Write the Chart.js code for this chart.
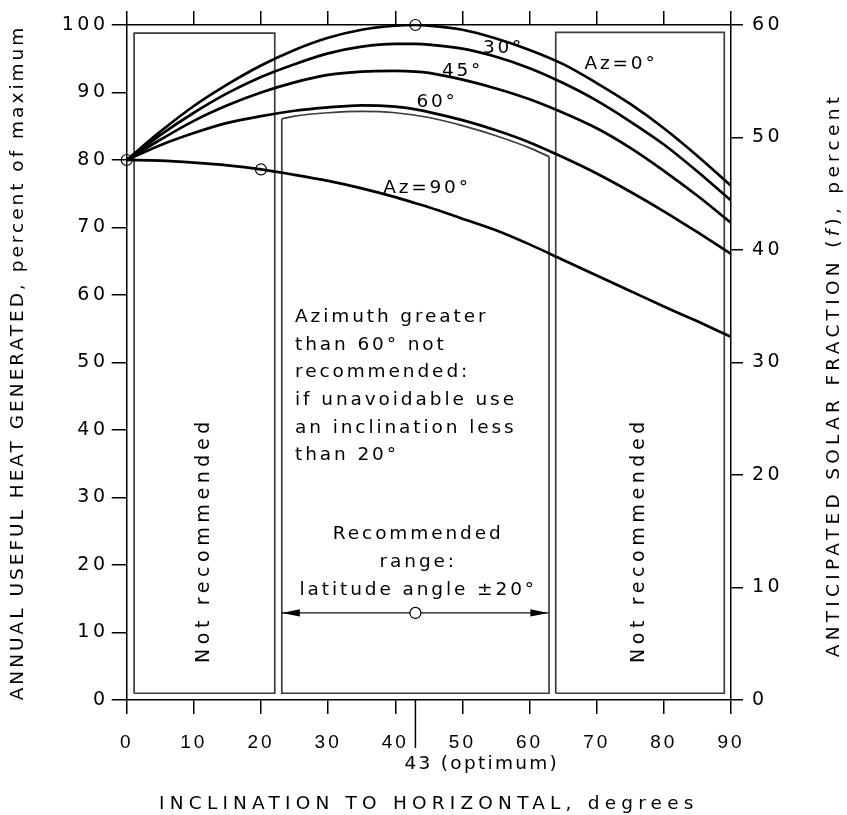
<!DOCTYPE html>
<html>
<head>
<meta charset="utf-8">
<script src="https://cdn.jsdelivr.net/npm/chart.js@4/dist/chart.umd.min.js"></script>
<style>
  html, body { margin: 0; padding: 0; background: #fff; }
  #wrap { width: 847px; height: 815px; }
</style>
</head>
<body>
<div id="wrap"><canvas id="c" width="847" height="815"></canvas></div>
<script>
// ---------- data ----------
const inclination = [0, 5, 10, 15, 20, 25, 30, 35, 40, 43, 45, 50, 55, 60, 65, 70, 75, 80, 85, 90];
const az0  = [80, 84.2, 88.0, 91.2, 94.0, 96.3, 98.1, 99.3, 99.9, 100, 99.9, 99.3, 98.0, 96.3, 94.2, 91.4, 88.3, 84.7, 80.6, 76.2];
const az30 = [80, 83.7, 87.0, 89.9, 92.3, 94.2, 95.8, 96.8, 97.2, 97.2, 97.1, 96.5, 95.3, 93.6, 91.4, 88.8, 85.7, 82.3, 78.3, 74.0];
const az45 = [80, 83.0, 85.8, 88.1, 90.0, 91.5, 92.6, 93.1, 93.2, 93.1, 92.9, 91.9, 90.6, 89.0, 87.0, 84.7, 81.8, 78.4, 74.7, 70.7];
const az60 = [80, 82.2, 84.0, 85.5, 86.5, 87.3, 87.8, 88.1, 87.9, 87.5, 87.1, 85.9, 84.4, 82.6, 80.4, 78.0, 75.3, 72.4, 69.3, 66.1];
const az90 = [80, 79.9, 79.6, 79.2, 78.6, 77.8, 76.9, 75.8, 74.5, 73.6, 73.0, 71.3, 69.6, 67.5, 65.2, 62.9, 60.6, 58.3, 56.1, 53.8];

// marked points (open circles)
const markX = [0, 20, 43, 43];
const markY = [80, 78.6, 100, 12.9];

// region boxes
const leftBoxX  = [1.1, 1.1, 22.05, 22.05, 1.1];
const leftBoxY  = [1.0, 98.8, 98.8, 1.0, 1.0];
const rightBoxX = [63.9, 63.9, 89.0, 89.0, 63.9];
const rightBoxY = [1.0, 98.9, 98.9, 1.0, 1.0];
const midSideX  = [23.1, 23.1, 62.9, 62.9];
const midSideY  = [86.1, 1.0, 1.0, 80.5];
const midTopX   = [23.1, 25, 30, 35, 40, 45, 50, 55, 60, 62.9];
const midTopY   = [86.1, 86.5, 87.0, 87.2, 87.0, 86.3, 85.1, 83.6, 81.8, 80.5];

// recommended range arrow
const arrowX = [23.1, 62.8];
const arrowY = [12.9, 12.9];

// axis settings
const xTicksStep = 10, yLeftMax = 100, yRightMax = 60;
const optimumAngle = 43;

// ---------- helpers ----------
const pts = (xs, ys) => xs.map((x, i) => ({ x: x, y: ys[i] }));
const LIB = "'Liberation Sans', Arial, Helvetica, sans-serif";
const DJV = "'DejaVu Sans', 'Liberation Sans', sans-serif";

function curve(label, ys) {
  return {
    label, data: pts(inclination, ys), showLine: true, borderColor: '#000',
    borderWidth: 2.7, pointRadius: 0, cubicInterpolationMode: 'monotone', fill: false, order: 2
  };
}
function outline(label, xs, ys, extra) {
  return Object.assign({
    label, data: pts(xs, ys), showLine: true, borderColor: '#3c3c3c', borderWidth: 1.7,
    pointRadius: 0, tension: 0, fill: false, order: 3
  }, extra || {});
}

const gridCommon = { drawOnChartArea: false, drawTicks: true, color: '#000', lineWidth: 1.5 };
const borderCommon = { display: true, color: '#000', width: 1.5 };

// per-scale letter spacing for library-drawn tick labels / titles
const scaleSpacing = {
  x:  { labels: '3px', title: '5.2px' },
  y:  { labels: '3.5px', title: '3px' },
  y2: { labels: '3.5px', title: '0px' },
  xTop: { labels: '0px', title: '0px' }
};

// ---------- annotations ----------
const annotations = {
  curveLabels: [
    { t: '30°',    x: 55.9, y: 96.6 },
    { t: '45°',    x: 49.8, y: 93.1 },
    { t: '60°',    x: 46.0, y: 88.6 },
    { t: 'Az=0°',  x: 73.4, y: 94.2 },
    { t: 'Az=90°', x: 44.5, y: 75.8 }
  ],
  para: { x: 25.07, ys: [56.0, 51.9, 47.8, 43.7, 39.6, 35.5],
          lines: ['Azimuth greater', 'than 60° not', 'recommended:', 'if unavoidable use', 'an inclination less', 'than 20°'] },
  rec: { x: 43.2, ys: [23.85, 19.7, 15.55], lines: ['Recommended', 'range:', 'latitude angle ±20°'] },
  notRec: [ { x: 11.6, y: 23.4 }, { x: 76.45, y: 23.4 } ]
};

function txt(ctx, s, x, y, o) {
  ctx.font = (o.style ? o.style + ' ' : '') + o.size + 'px ' + (o.family || DJV);
  ctx.letterSpacing = (o.ls || 0) + 'px';
  ctx.textAlign = o.align || 'left';
  ctx.textBaseline = o.baseline || 'alphabetic';
  ctx.fillText(s, x, y);
}

const annotPlugin = {
  id: 'annot',
  beforeDraw(chart) {
    const ctx = chart.ctx;
    ctx.save();
    ctx.fillStyle = '#fff';
    ctx.fillRect(0, 0, chart.width, chart.height);
    ctx.restore();
  },
  afterLayout(chart) {
    Object.values(chart.scales).forEach(s => {
      if (s.__lsWrapped) return;
      s.__lsWrapped = true;
      const sp = scaleSpacing[s.id] || { labels: '0px', title: '0px' };
      const dl = s.drawLabels, dt = s.drawTitle;
      s.drawLabels = function (a) { const c = this.ctx; c.save(); c.letterSpacing = sp.labels; dl.call(this, a); c.restore(); };
      s.drawTitle = function (a) { const c = this.ctx; c.save(); c.letterSpacing = sp.title; dt.call(this, a); c.restore(); };
    });
  },
  afterDraw(chart) {
    const ctx = chart.ctx;
    const xs = chart.scales.x, ys = chart.scales.y;
    const X = v => xs.getPixelForValue(v), Y = v => ys.getPixelForValue(v);
    ctx.save();
    ctx.fillStyle = '#000';
    ctx.strokeStyle = '#000';

    // curve labels
    annotations.curveLabels.forEach(l =>
      txt(ctx, l.t, X(l.x) + 1.5, Y(l.y), { size: 18.5, ls: 2.8, align: 'center', baseline: 'middle' }));

    // paragraph
    annotations.para.lines.forEach((s, i) =>
      txt(ctx, s, X(annotations.para.x), Y(annotations.para.ys[i]), { size: 18.5, ls: 2.9 }));

    // recommended range text
    annotations.rec.lines.forEach((s, i) =>
      txt(ctx, s, X(annotations.rec.x) + 1.5, Y(annotations.rec.ys[i]), { size: 18.5, ls: 2.9, align: 'center' }));

    // Not recommended (vertical)
    annotations.notRec.forEach(p => {
      ctx.save();
      ctx.translate(X(p.x) - 1, Y(p.y));
      ctx.rotate(-Math.PI / 2);
      txt(ctx, 'Not recommended', 2, 0, { size: 19, ls: 4.6, align: 'center', baseline: 'middle' });
      ctx.restore();
    });

    // arrowheads
    const ay = Y(arrowY[0]);
    const drawHead = (tipX, dir) => {
      ctx.beginPath();
      ctx.moveTo(tipX, ay);
      ctx.lineTo(tipX - dir * 18, ay - 3.6);
      ctx.lineTo(tipX - dir * 18, ay + 3.6);
      ctx.closePath();
      ctx.fill();
    };
    drawHead(X(arrowX[0]), -1);
    drawHead(X(arrowX[1]), 1);

    // optimum tick and label
    const ox = X(optimumAngle);
    ctx.lineWidth = 1.5;
    ctx.beginPath();
    ctx.moveTo(ox, chart.chartArea.bottom);
    ctx.lineTo(ox, chart.chartArea.bottom + 48);
    ctx.stroke();
    txt(ctx, '43 (optimum)', ox - 11, 764, { size: 18.5, ls: 2.3, baseline: 'middle' });

    // right axis title with italic f
    const p1 = 'ANTICIPATED SOLAR FRACTION (', p2 = 'f', p3 = '), percent';
    ctx.letterSpacing = '4.3px';
    ctx.font = '18.5px ' + DJV;
    const wA = ctx.measureText(p1).width;
    ctx.font = 'italic 18.5px ' + DJV;
    const wB = ctx.measureText(p2).width;
    ctx.font = '18.5px ' + DJV;
    const wC = ctx.measureText(p3).width;
    const total = wA + wB + wC;
    ctx.translate(834, 375);
    ctx.rotate(-Math.PI / 2);
    let cx = -total / 2;
    txt(ctx, p1, cx, 0, { size: 18.5, ls: 4.3, baseline: 'middle' }); cx += wA;
    txt(ctx, p2, cx, 0, { size: 18.5, ls: 4.3, baseline: 'middle', style: 'italic' }); cx += wB;
    txt(ctx, p3, cx, 0, { size: 18.5, ls: 4.3, baseline: 'middle' });
    ctx.restore();
  }
};

// ---------- chart ----------
new Chart(document.getElementById('c').getContext('2d'), {
  type: 'scatter',
  data: {
    datasets: [
      { label: 'marks', data: pts(markX, markY), pointRadius: 5.5, pointBorderWidth: 1.2,
        pointBorderColor: '#000', pointBackgroundColor: ['rgba(0,0,0,0)', 'rgba(0,0,0,0)', 'rgba(0,0,0,0)', '#fff'],
        showLine: false, clip: false, order: 0 },
      curve('Az=0°', az0),
      curve('Az=30°', az30),
      curve('Az=45°', az45),
      curve('Az=60°', az60),
      curve('Az=90°', az90),
      { label: 'arrow', data: pts(arrowX, arrowY), showLine: true, borderColor: '#111', borderWidth: 1.3,
        pointRadius: 0, order: 1 },
      outline('leftBox', leftBoxX, leftBoxY),
      outline('rightBox', rightBoxX, rightBoxY),
      outline('midSides', midSideX, midSideY),
      outline('midTop', midTopX, midTopY, { cubicInterpolationMode: 'monotone' })
    ]
  },
  options: {
    responsive: false,
    animation: false,
    events: [],
    layout: { padding: 0 },
    plugins: { legend: { display: false }, tooltip: { enabled: false } },
    scales: {
      x: {
        type: 'linear', position: 'bottom', min: 0, max: 90,
        ticks: { stepSize: xTicksStep, autoSkip: false, maxRotation: 0, minRotation: 0, color: '#000',
                 font: { family: LIB, size: 19 }, padding: 17 },
        grid: Object.assign({}, gridCommon, { tickLength: 14 }),
        border: borderCommon,
        title: { display: true, text: 'INCLINATION TO HORIZONTAL, degrees', color: '#000',
                 font: { family: DJV, size: 18.5 }, padding: { top: 0, bottom: 0 } },
        afterFit: s => { s.height = 115; }
      },
      xTop: {
        type: 'linear', position: 'top', min: 0, max: 90,
        ticks: { stepSize: xTicksStep, display: false },
        grid: Object.assign({}, gridCommon, { tickLength: 14 }),
        border: borderCommon,
        afterFit: s => { s.height = 25; }
      },
      y: {
        type: 'linear', position: 'left', min: 0, max: yLeftMax,
        ticks: { stepSize: 10, autoSkip: false, color: '#000', font: { family: DJV, size: 19 }, padding: 3.2 },
        grid: Object.assign({}, gridCommon, { tickLength: 15 }),
        border: borderCommon,
        title: { display: true, text: 'ANNUAL USEFUL HEAT GENERATED, percent of maximum', color: '#000',
                 font: { family: DJV, size: 18.5 }, padding: { top: 7, bottom: 0 } },
        afterFit: s => { s.width = 126.7; }
      },
      y2: {
        type: 'linear', position: 'right', min: 0, max: yRightMax,
        ticks: { stepSize: 10, autoSkip: false, color: '#000', font: { family: DJV, size: 19 }, padding: 9 },
        grid: Object.assign({}, gridCommon, { tickLength: 12 }),
        border: borderCommon,
        afterFit: s => { s.width = 116; }
      }
    }
  },
  plugins: [annotPlugin]
});
</script>
</body>
</html>
